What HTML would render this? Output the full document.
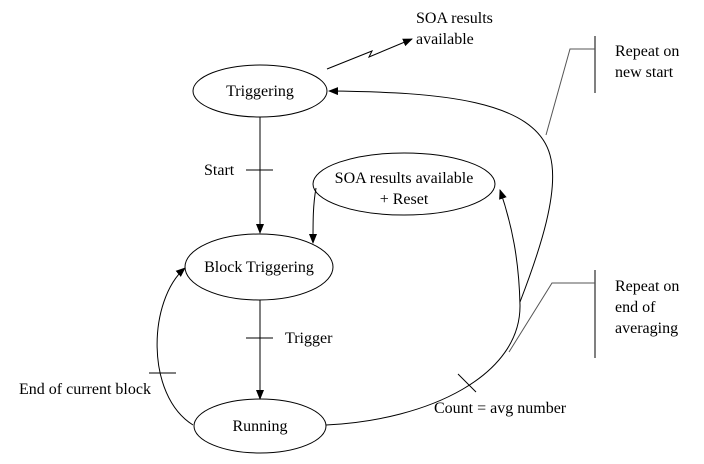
<!DOCTYPE html>
<html><head><meta charset="utf-8"><style>
html,body{margin:0;padding:0;background:#fff;}
svg{display:block;}
text{font-family:"Liberation Serif","Times New Roman","DejaVu Serif",serif;font-size:16px;fill:#000;}
</style></head><body>
<svg width="704" height="464" viewBox="0 0 704 464" xmlns="http://www.w3.org/2000/svg">
<defs>
<marker id="a" markerWidth="10" markerHeight="8" refX="9" refY="4" orient="auto" markerUnits="userSpaceOnUse">
<path d="M0,0 L10,4 L0,8 z" fill="#000"/></marker>
</defs>
<g fill="none" stroke="#000" stroke-width="1">
<ellipse cx="260" cy="91" rx="67" ry="26"/>
<ellipse cx="259" cy="267" rx="74" ry="33"/>
<ellipse cx="260" cy="426" rx="66" ry="27"/>
<ellipse cx="404" cy="184" rx="91" ry="31"/>
<line x1="260" y1="117" x2="260" y2="233" marker-end="url(#a)"/>
<line x1="260" y1="300" x2="260" y2="399" marker-end="url(#a)"/>
<line x1="246" y1="170" x2="273" y2="170"/>
<line x1="246" y1="338" x2="273" y2="338"/>
<path d="M316 188 C313 205 313 220 313 243" marker-end="url(#a)"/>
<path d="M193 425 C145 395 148 300 185 268" marker-end="url(#a)"/>
<line x1="149" y1="373" x2="176" y2="373"/>
<path d="M326 425 C430 420 521 375 520 305 C519 260 512 225 500 190" marker-end="url(#a)"/>
<path d="M520 302 C540 250 560 190 550 155 C535 100 440 92 329 91" marker-end="url(#a)"/>
<line x1="458" y1="374" x2="476" y2="392"/>
<path d="M327 69 L372 51 L369 57 L412 39" marker-end="url(#a)"/>
<line x1="595" y1="36" x2="595" y2="93"/>
<polyline points="595,49 570,49 546,135" stroke="#555"/>
<line x1="595" y1="270" x2="595" y2="358"/>
<polyline points="595,283 552,283 509,352" stroke="#555"/>
</g>
<g font-family="'Liberation Serif','Times New Roman','DejaVu Serif',serif" font-size="16">
<text x="260" y="96" text-anchor="middle">Triggering</text>
<text x="259" y="272" text-anchor="middle">Block Triggering</text>
<text x="260" y="431" text-anchor="middle">Running</text>
<text x="404" y="183" text-anchor="middle">SOA results available</text>
<text x="404" y="204" text-anchor="middle">+ Reset</text>
<text x="204" y="175">Start</text>
<text x="285" y="343">Trigger</text>
<text x="19" y="394">End of current block</text>
<text x="434" y="413">Count = avg number</text>
<text x="416" y="23">SOA results</text>
<text x="416" y="44">available</text>
<text x="615" y="56">Repeat on</text>
<text x="615" y="77">new start</text>
<text x="615" y="291">Repeat on</text>
<text x="615" y="312">end of</text>
<text x="615" y="333">averaging</text>
</g>
</svg>
</body></html>
